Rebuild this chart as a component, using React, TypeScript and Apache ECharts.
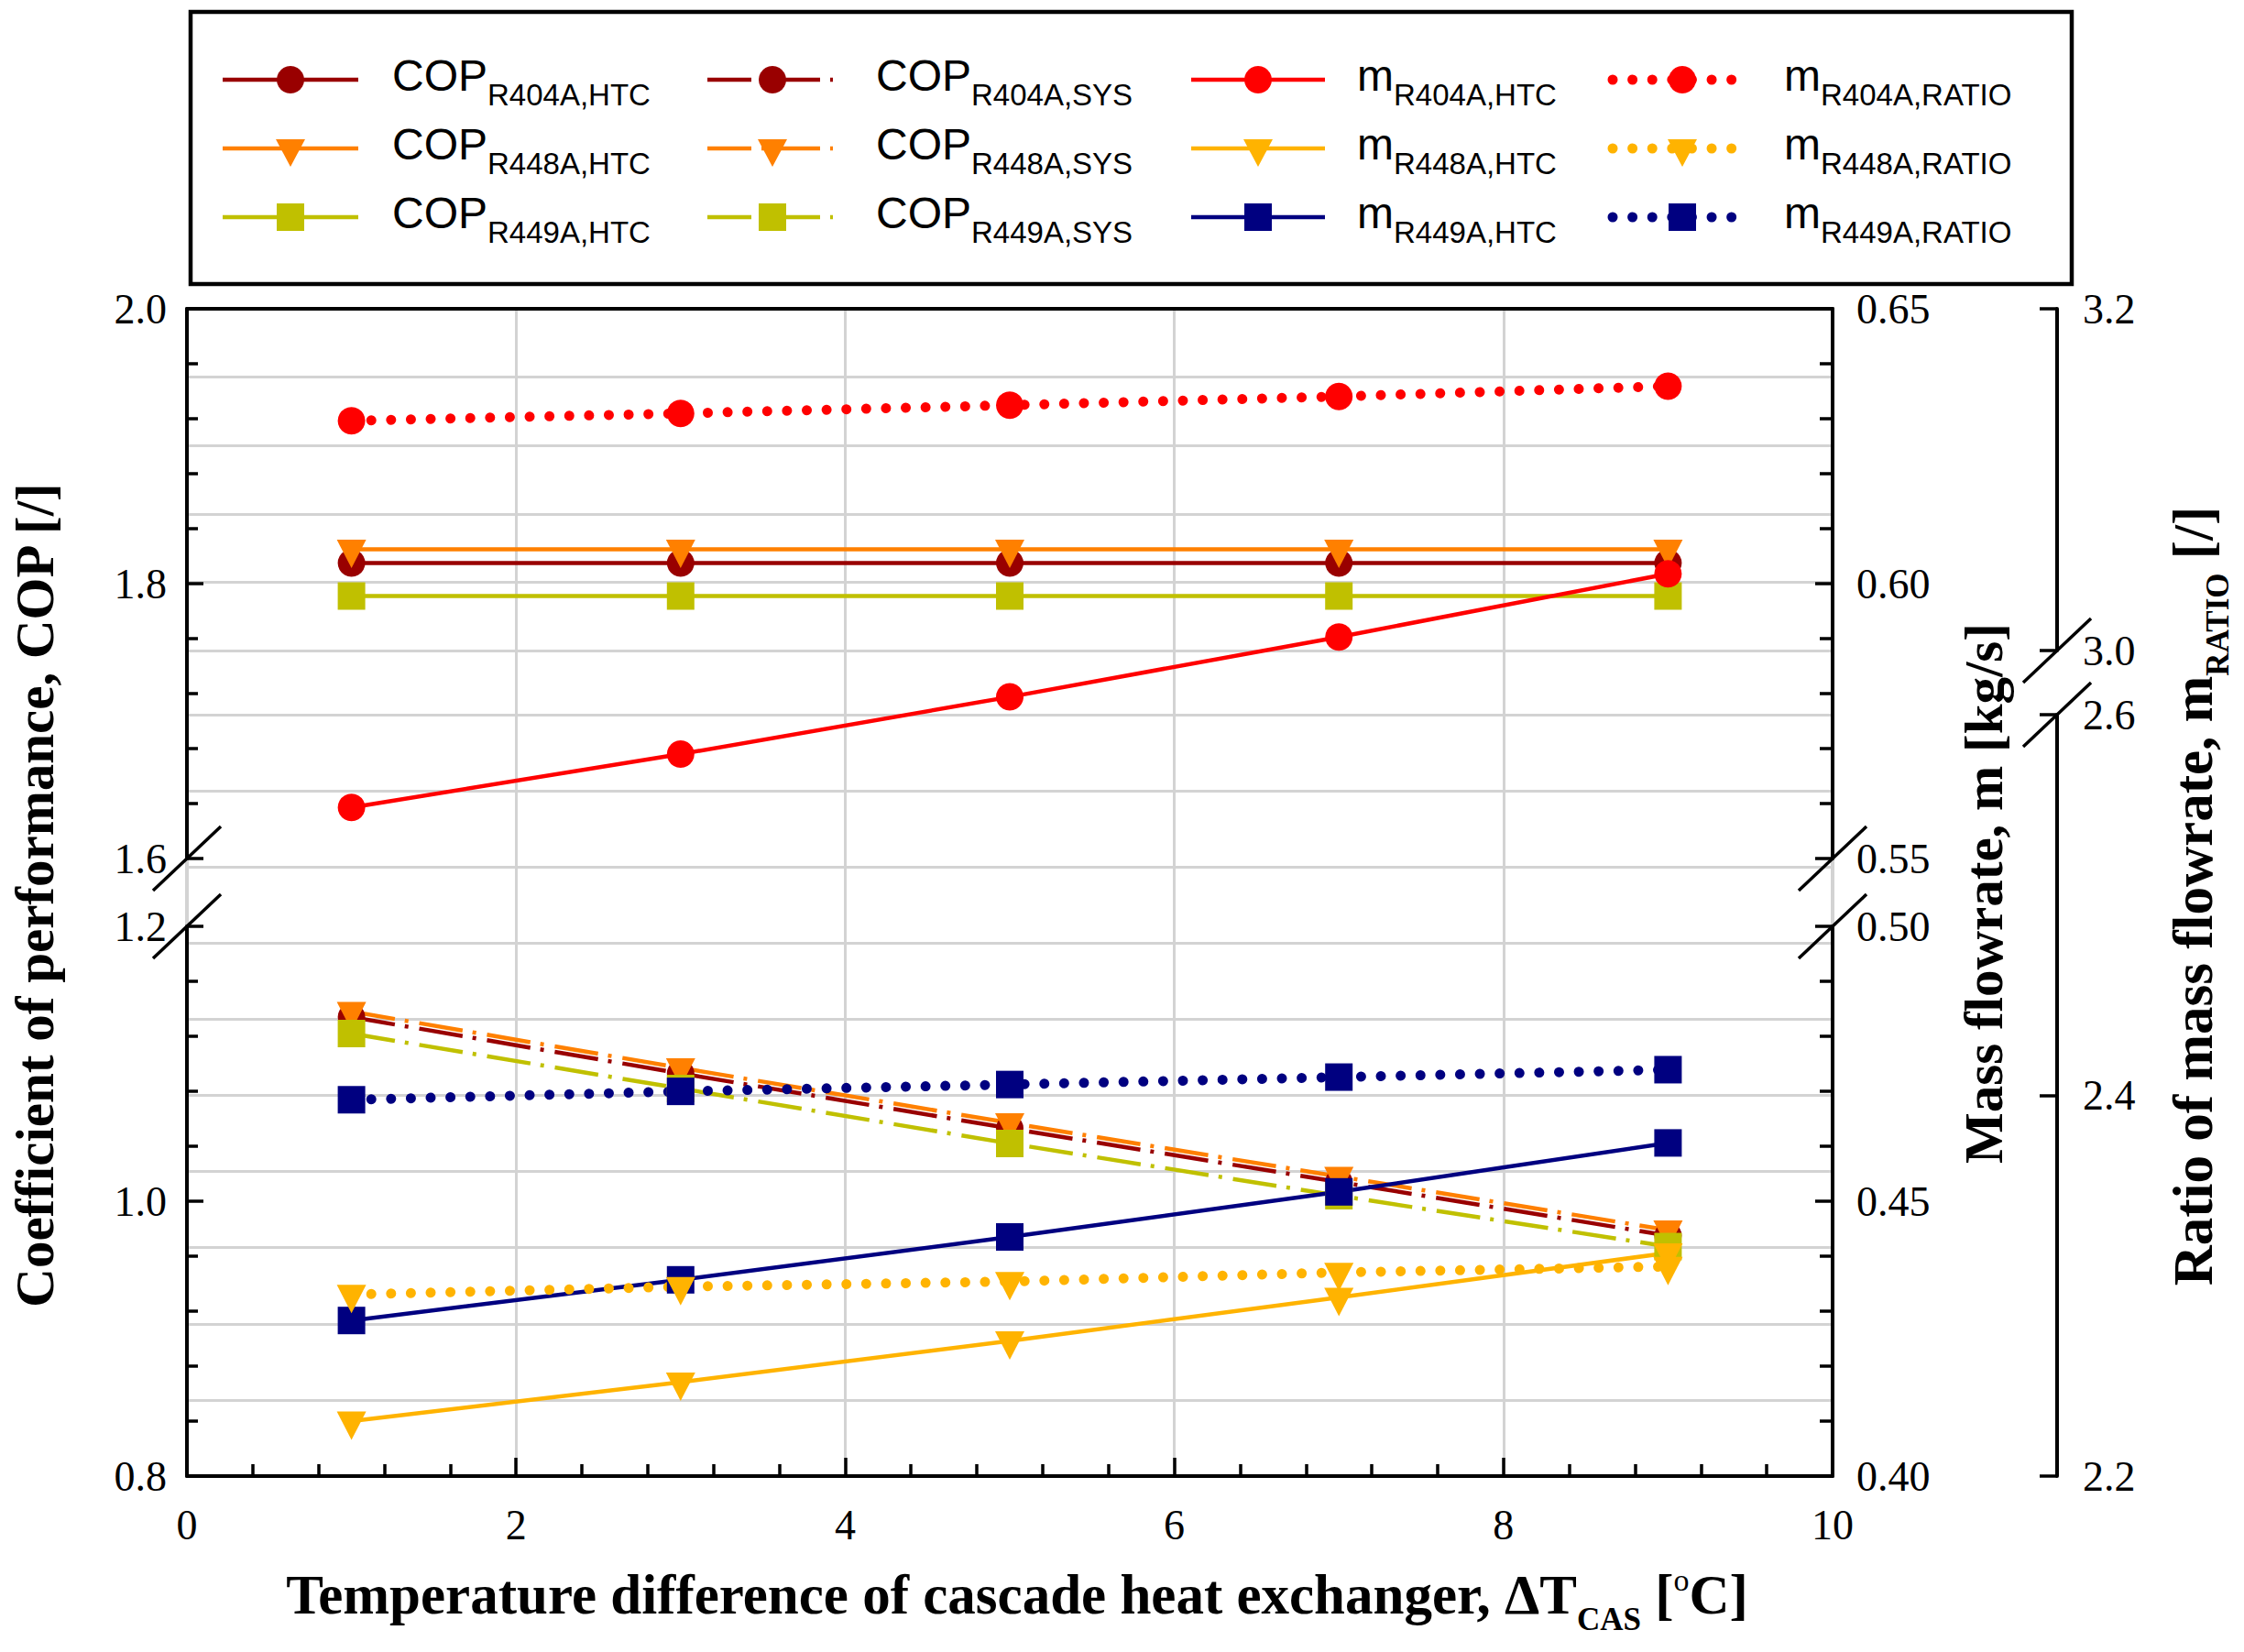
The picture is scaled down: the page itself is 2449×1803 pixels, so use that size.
import React, { useEffect, useRef } from "react";
import * as echarts from "echarts";

// ---------------- data ----------------
const deltaT = [1, 3, 5, 7, 9];

const copHtcR404A = [1.815, 1.815, 1.815, 1.815, 1.815];
const copHtcR448A = [1.825, 1.825, 1.825, 1.825, 1.825];
const copHtcR449A = [1.791, 1.791, 1.791, 1.791, 1.791];

const copSysR404A = [1.134, 1.093, 1.053, 1.014, 0.975];
const copSysR448A = [1.138, 1.097, 1.057, 1.018, 0.979];
const copSysR449A = [1.122, 1.082, 1.042, 1.004, 0.967];

const mHtcR404A = [0.5593, 0.569, 0.5794, 0.5903, 0.6018];
const mHtcR448A = [0.41, 0.4171, 0.4246, 0.4325, 0.4406];
const mHtcR449A = [0.4283, 0.4357, 0.4435, 0.4517, 0.4606];

const ratioR404A = [3.1345, 3.1388, 3.1436, 3.1487, 3.1547];
const ratioR448A = [2.2954, 2.2995, 2.3022, 2.307, 2.3101];
const ratioR449A = [2.3977, 2.4021, 2.4057, 2.4096, 2.4135];

const refrigerants = ["R404A", "R448A", "R449A"];

// axis ranges (broken axes: upper / lower segments)
const xRange = [0, 10];
const xStep = 2;
const copUpper = [1.6, 2.0];
const copLower = [0.8, 1.2];
const copStep = 0.2;
const mUpper = [0.55, 0.65];
const mLower = [0.4, 0.5];
const mStep = 0.05;
const ratioUpper = [3.0, 3.2];
const ratioLower = [2.2, 2.6];
const ratioStep = 0.2;
const ratioGridStep = 0.04;

// ---------------- layout / style ----------------
const W = 2449;
const H = 1803;
const PL = 204;
const PR = 2000;
const PT = 337;
const PB = 1611;
const COP_GAP_TOP = 937;
const COP_GAP_BOT = 1011;
const RAT_GAP_TOP = 710;
const RAT_GAP_BOT = 780;
const RAT_AXIS_X = 2245;

const SERIF = "Liberation Serif";
const SANS = "Liberation Sans";
const GRID_GRAY = "#d3d3d3";
const copColors = ["#990000", "#FF8000", "#C0C000"];
const mColors = ["#FF0000", "#FFB300", "#000080"];

const DASHDOT = [48, 11, 4, 12];
const DOTTED = [0.01, 21.6];

type SymDef = { symbol: string; size: number | number[]; rotate?: number; offset?: number[] };
const SYMS: SymDef[] = [
  { symbol: "circle", size: 30 },
  { symbol: "triangle", size: [32, 31], rotate: 180, offset: [0, 5] },
  { symbol: "rect", size: 30 },
];

type LineKind = "solid" | "dashdot" | "dotted";

function lineStyleFor(kind: LineKind, color: string) {
  if (kind === "dashdot") return { color, width: 4.5, type: DASHDOT, cap: "butt" };
  if (kind === "dotted") return { color, width: 11, type: DOTTED, cap: "round" };
  return { color, width: 4.5, type: "solid" };
}

// axis indices
// grid0: full frame; grid1: COP upper; grid2: COP lower; grid3: ratio upper; grid4: ratio lower
const X_COPU = 2, X_COPL = 3, X_RATU = 4, X_RATL = 5;
const Y_COPU = 2, Y_MU = 3, Y_COPL = 4, Y_ML = 5, Y_RATU = 6, Y_RATL = 8;

const inRange = (vals: number[], r: number[]) => vals.every((v) => v >= r[0] && v <= r[1]);

function mkSeries(name: string, vals: number[], color: string, symIdx: number, kind: LineKind, xi: number, yi: number) {
  const s = SYMS[symIdx];
  return {
    name,
    type: "line",
    xAxisIndex: xi,
    yAxisIndex: yi,
    data: deltaT.map((x, i) => [x, vals[i]]),
    symbol: s.symbol,
    symbolSize: s.size,
    symbolRotate: s.rotate || 0,
    symbolOffset: s.offset || [0, 0],
    showSymbol: true,
    clip: false,
    lineStyle: lineStyleFor(kind, color),
    itemStyle: { color, borderWidth: 0 },
    emphasis: { disabled: true },
    silent: true,
    z: 3,
  };
}

function copAxes(vals: number[]) {
  return inRange(vals, copUpper) ? [X_COPU, Y_COPU] : [X_COPL, Y_COPL];
}
function mAxes(vals: number[]) {
  return inRange(vals, mUpper) ? [X_COPU, Y_MU] : [X_COPL, Y_ML];
}
function ratioAxes(vals: number[]) {
  return inRange(vals, ratioUpper) ? [X_RATU, Y_RATU] : [X_RATL, Y_RATL];
}

const tickFont = { color: "#000", fontFamily: SERIF, fontSize: 46, fontWeight: "normal" };

function valueAxis(
  gridIndex: number,
  range: number[],
  interval: number,
  position: string,
  decimals: number,
  tickLen: number,
  minorLen: number,
  margin: number,
  offset = 0,
  minor = true
) {
  return {
    gridIndex,
    type: "value",
    min: range[0],
    max: range[1],
    interval,
    position,
    offset,
    z: 1,
    axisLine: { show: true, onZero: false, lineStyle: { color: "#000", width: 4 } },
    axisTick: { show: true, inside: true, length: tickLen, lineStyle: { color: "#000", width: 3.5 } },
    minorTick: { show: minor, splitNumber: 5, length: minorLen, lineStyle: { color: "#000", width: 3.5 } },
    axisLabel: {
      show: true,
      margin,
      ...tickFont,
      showMinLabel: true,
      showMaxLabel: true,
      formatter: (v: number) => v.toFixed(decimals),
    },
    splitLine: { show: false },
  };
}

function gridlineAxis(gridIndex: number, range: number[], step: number, showMin: boolean, showMax: boolean) {
  return {
    gridIndex,
    type: "value",
    min: range[0],
    max: range[1],
    interval: step,
    position: "left",
    z: 0,
    axisLine: { show: false },
    axisTick: { show: false },
    axisLabel: { show: false },
    splitLine: { show: true, showMinLine: showMin, showMaxLine: showMax, lineStyle: { color: GRID_GRAY, width: 3 } },
  };
}

function frameAxis(position: string) {
  return {
    gridIndex: 0,
    type: "value",
    min: 0,
    max: 1,
    position,
    z: 0,
    axisLine: { show: true, onZero: false, lineStyle: { color: GRID_GRAY, width: 4 } },
    axisTick: { show: false },
    axisLabel: { show: false },
    splitLine: { show: false },
  };
}

function hiddenX(gridIndex: number) {
  return { gridIndex, type: "value", min: xRange[0], max: xRange[1], show: false };
}

function makeTitleRich(size: number) {
  return {
    b: { fontFamily: SERIF, fontWeight: "bold", fontSize: size, fill: "#000", lineHeight: 72 },
    s: { fontFamily: SERIF, fontWeight: "bold", fontSize: 35, fill: "#000", lineHeight: 40, padding: [54, 0, 0, 0] },
    p: { fontFamily: SERIF, fontWeight: "normal", fontSize: 34, fill: "#000", lineHeight: 40, padding: [0, 0, 32, 0] },
  };
}
const titleRich = makeTitleRich(61);
const leftTitleRich = makeTitleRich(59);

const legendRich = {
  m: { fontFamily: SANS, fontSize: 48, fill: "#000", lineHeight: 60 },
  s: { fontFamily: SANS, fontSize: 33, fill: "#000", lineHeight: 30, padding: [41, 0, 0, 0] },
};

const legendRows = [87, 162, 237];
const legendCols = [
  { main: "COP", tag: "HTC", palette: copColors, kind: "solid" as LineKind, x1: 243, x2: 391, mx: 317, tx: 428 },
  { main: "COP", tag: "SYS", palette: copColors, kind: "dashdot" as LineKind, x1: 772, x2: 909, mx: 843, tx: 956 },
  { main: "m", tag: "HTC", palette: mColors, kind: "solid" as LineKind, x1: 1300, x2: 1446, mx: 1373, tx: 1481 },
  { main: "m", tag: "RATIO", palette: mColors, kind: "dotted" as LineKind, x1: 1760, x2: 1898, mx: 1836, tx: 1947 },
];

function legendMarker(symIdx: number, cx: number, cy: number, fill: string) {
  if (symIdx === 0) return { type: "circle", shape: { cx, cy, r: 15 }, style: { fill }, z: 101 };
  if (symIdx === 1)
    return {
      type: "polygon",
      shape: { points: [[cx - 16, cy - 10], [cx + 16, cy - 10], [cx, cy + 20]] },
      style: { fill },
      z: 101,
    };
  return { type: "rect", shape: { x: cx - 15, y: cy - 15, width: 30, height: 30 }, style: { fill }, z: 101 };
}

function legendLine(kind: LineKind, x1: number, x2: number, y: number, stroke: string) {
  const ls: any = lineStyleFor(kind, stroke);
  return {
    type: "line",
    shape: { x1, y1: y, x2, y2: y },
    style: {
      stroke,
      lineWidth: ls.width,
      lineDash: Array.isArray(ls.type) ? ls.type : null,
      lineCap: kind === "dotted" ? "round" : "butt",
    },
    z: 100,
  };
}

function breakMark(cx: number, cy: number) {
  return {
    type: "line",
    shape: { x1: cx - 37, y1: cy + 35, x2: cx + 37, y2: cy - 35 },
    style: { stroke: "#000", lineWidth: 3.5 },
    z: 100,
  };
}

function buildOption() {
  const series: any[] = [];
  const copHtc = [copHtcR404A, copHtcR448A, copHtcR449A];
  const copSys = [copSysR404A, copSysR448A, copSysR449A];
  const mHtc = [mHtcR404A, mHtcR448A, mHtcR449A];
  const ratio = [ratioR404A, ratioR448A, ratioR449A];
  refrigerants.forEach((r, i) => {
    const [xi, yi] = copAxes(copHtc[i]);
    series.push(mkSeries(`COP ${r},HTC`, copHtc[i], copColors[i], i, "solid", xi, yi));
  });
  refrigerants.forEach((r, i) => {
    const [xi, yi] = copAxes(copSys[i]);
    series.push(mkSeries(`COP ${r},SYS`, copSys[i], copColors[i], i, "dashdot", xi, yi));
  });
  refrigerants.forEach((r, i) => {
    const [xi, yi] = mAxes(mHtc[i]);
    series.push(mkSeries(`m ${r},HTC`, mHtc[i], mColors[i], i, "solid", xi, yi));
  });
  refrigerants.forEach((r, i) => {
    const [xi, yi] = ratioAxes(ratio[i]);
    series.push(mkSeries(`m ${r},RATIO`, ratio[i], mColors[i], i, "dotted", xi, yi));
  });

  const gridBase = { left: PL, width: PR - PL, containLabel: false, outerBoundsMode: "none" };

  const graphics: any[] = [];
  // legend frame
  graphics.push({
    type: "rect",
    shape: { x: 208, y: 13, width: 2053, height: 297 },
    style: { fill: "none", stroke: "#000", lineWidth: 4.5 },
    z: 99,
  });
  legendCols.forEach((col) => {
    refrigerants.forEach((r, i) => {
      const y = legendRows[i];
      const color = col.palette[i];
      graphics.push(legendLine(col.kind, col.x1, col.x2, y, color));
      graphics.push(legendMarker(i, col.mx, y, color));
      graphics.push({
        type: "text",
        x: col.tx,
        y: y - 4.5,
        style: {
          text: `{m|${col.main}}{s|${r},${col.tag}}`,
          rich: legendRich,
          align: "left",
          verticalAlign: "middle",
        },
        z: 101,
      });
    });
  });
  // break marks
  graphics.push(breakMark(PL, COP_GAP_TOP));
  graphics.push(breakMark(PL, COP_GAP_BOT));
  graphics.push(breakMark(PR, COP_GAP_TOP));
  graphics.push(breakMark(PR, COP_GAP_BOT));
  graphics.push(breakMark(RAT_AXIS_X, RAT_GAP_TOP));
  graphics.push(breakMark(RAT_AXIS_X, RAT_GAP_BOT));
  // axis titles
  graphics.push({
    type: "text",
    x: 1110,
    y: 1740,
    style: {
      text: "{b|Temperature difference of cascade heat exchanger, ΔT}{s|CAS}{b| [}{p|o}{b|C]}",
      rich: titleRich,
      align: "center",
      verticalAlign: "middle",
    },
    z: 100,
  });
  graphics.push({
    type: "text",
    x: 38,
    y: 977,
    rotation: Math.PI / 2,
    style: {
      text: "{b|Coefficient of performance, COP [/]}",
      rich: leftTitleRich,
      align: "center",
      verticalAlign: "middle",
    },
    z: 100,
  });
  graphics.push({
    type: "text",
    x: 2165,
    y: 975,
    rotation: Math.PI / 2,
    style: {
      text: "{b|Mass flowrate, m [kg/s]}",
      rich: leftTitleRich,
      align: "center",
      verticalAlign: "middle",
    },
    z: 100,
  });
  graphics.push({
    type: "text",
    x: 2393,
    y: 978,
    rotation: Math.PI / 2,
    style: {
      text: "{b|Ratio of mass flowrate, m}{s|RATIO}{b| [/]}",
      rich: titleRich,
      align: "center",
      verticalAlign: "middle",
    },
    z: 100,
  });

  return {
    animation: false,
    backgroundColor: "#ffffff",
    textStyle: { fontFamily: SERIF },
    grid: [
      { ...gridBase, top: PT, height: PB - PT },
      { ...gridBase, top: PT, height: COP_GAP_TOP - PT },
      { ...gridBase, top: COP_GAP_BOT, height: PB - COP_GAP_BOT },
      { ...gridBase, top: PT, height: RAT_GAP_TOP - PT },
      { ...gridBase, top: RAT_GAP_BOT, height: PB - RAT_GAP_BOT },
    ],
    xAxis: [
      {
        gridIndex: 0,
        type: "value",
        min: xRange[0],
        max: xRange[1],
        interval: xStep,
        position: "bottom",
        z: 1,
        axisLine: { show: true, onZero: false, lineStyle: { color: "#000", width: 4 } },
        axisTick: { show: true, inside: true, length: 20, lineStyle: { color: "#000", width: 3.5 } },
        minorTick: { show: true, splitNumber: 5, length: 13, lineStyle: { color: "#000", width: 3.5 } },
        axisLabel: {
          show: true,
          margin: 30,
          ...tickFont,
          showMinLabel: true,
          showMaxLabel: true,
          formatter: (v: number) => String(v),
        },
        splitLine: {
          show: true,
          showMinLine: false,
          showMaxLine: false,
          lineStyle: { color: GRID_GRAY, width: 3 },
        },
      },
      {
        gridIndex: 0,
        type: "value",
        min: xRange[0],
        max: xRange[1],
        position: "top",
        z: 1,
        axisLine: { show: true, onZero: false, lineStyle: { color: "#000", width: 4 } },
        axisTick: { show: false },
        axisLabel: { show: false },
        splitLine: { show: false },
      },
      hiddenX(1),
      hiddenX(2),
      hiddenX(3),
      hiddenX(4),
    ],
    yAxis: [
      frameAxis("left"),
      frameAxis("right"),
      valueAxis(1, copUpper, copStep, "left", 1, 18, 12, 22),
      valueAxis(1, mUpper, mStep, "right", 2, 19, 14, 26),
      valueAxis(2, copLower, copStep, "left", 1, 18, 12, 22),
      valueAxis(2, mLower, mStep, "right", 2, 19, 14, 26),
      valueAxis(3, ratioUpper, ratioStep, "right", 1, 19, 0, 28, RAT_AXIS_X - PR, false),
      gridlineAxis(3, ratioUpper, ratioGridStep, true, false),
      valueAxis(4, ratioLower, ratioStep, "right", 1, 19, 0, 28, RAT_AXIS_X - PR, false),
      gridlineAxis(4, ratioLower, ratioGridStep, false, true),
    ],
    series,
    graphic: { elements: graphics },
  };
}

export default function App() {
  const ref = useRef<HTMLDivElement>(null);
  useEffect(() => {
    if (!ref.current) return;
    const chart = echarts.init(ref.current, undefined, { renderer: "svg", width: W, height: H });
    chart.setOption(buildOption() as any);
    return () => {
      chart.dispose();
    };
  }, []);
  return (
    <div
      ref={ref}
      style={{ position: "absolute", left: 0, top: 0, width: W, height: H, background: "#fff" }}
    />
  );
}
